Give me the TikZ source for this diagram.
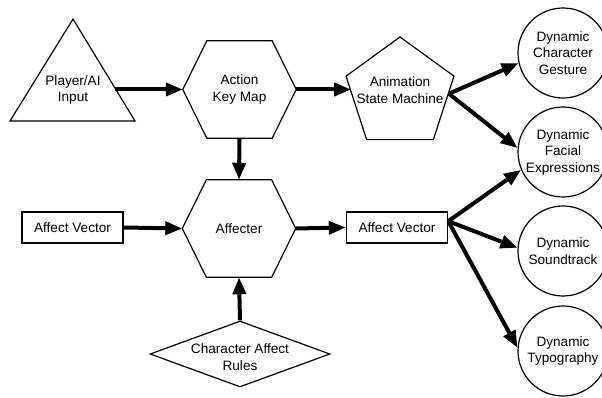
\documentclass[tikz,border=0pt]{standalone}
\usepackage{fontspec}
\setmainfont{Liberation Sans}
\usetikzlibrary{shapes.geometric,arrows.meta}

\tikzset{
  outline/.style={draw,line width=1.2pt},
  boxtext/.style={font=\fontsize{13.6}{16.5}\selectfont,align=center},
  hexnode/.style={boxtext,minimum width=113pt,minimum height=97pt,inner sep=0pt},
  vecbox/.style={boxtext,draw,line width=1.5pt,minimum width=101pt,minimum height=31pt,inner sep=0pt},
  outcircle/.style={boxtext,outline,circle,minimum size=90pt,inner sep=0pt},
  flow/.style={line width=4pt,-{Triangle[length=17pt,width=13pt]}},
}
\newcommand{\hexoutline}[1]{%
  \draw[outline] (#1.west) -- ([xshift=24pt]#1.north west) -- ([xshift=-24pt]#1.north east)
    -- (#1.east) -- ([xshift=-24pt]#1.south east) -- ([xshift=24pt]#1.south west) -- cycle;}

\begin{document}
\begin{tikzpicture}[x=1pt,y=-1pt]
  \useasboundingbox (0,0) rectangle (602,398);

  % input triangle
  \draw[outline] (73,19) -- (135,121) -- (10,121) -- cycle;
  \node[boxtext] (player) at (73,90) {Player/AI\\Input};
  \coordinate (player-out) at (115,89.5);

  % hexagons
  \node[hexnode] (akm) at (239.5,89.5) {Action\\Key Map};
  \hexoutline{akm}
  \node[hexnode] (aff) at (239,228.5) {Affecter};
  \hexoutline{aff}

  % state machine
  \node[outline,regular polygon,regular polygon sides=5,minimum size=113.5pt,inner sep=0pt]
    (asm) at (400,93.7) {};
  \node[boxtext] (asm-text) at (400,90) {Animation\\State Machine};

  % affect vectors
  \node[vecbox] (av1) at (72.5,227.5) {Affect Vector};
  \node[vecbox] (av2) at (397,227.5) {Affect Vector};

  % rules
  \node[outline,diamond,minimum width=180pt,minimum height=66pt,inner sep=0pt]
    (rules) at (240,354) {};
  \node[boxtext] (rules-text) at (240,357) {Character Affect\\Rules};

  % outputs
  \node[outcircle] (g1) at (563,53) {Dynamic\\Character\\Gesture};
  \node[outcircle] (g2) at (563,152) {Dynamic\\Facial\\Expressions};
  \node[outcircle] (g3) at (563,251) {Dynamic\\Soundtrack};
  \node[outcircle] (g4) at (563,351) {Dynamic\\Typography};

  % connectors
  \draw[flow] (player-out) -- (akm.west);
  \draw[flow] (akm.east) -- (asm.west |- akm.east);
  \draw[flow] (akm.south) -- (aff.north);
  \draw[flow] (av1.east) -- (aff.west);
  \draw[flow] (rules.north) -- (aff.south);
  \draw[flow] (aff.east) -- (av2.west);
  \draw[flow] (asm.east) -- (g1.193);
  \draw[flow] (asm.east) -- (g2.175);
  \draw[flow] (av2.7) -- (g2.203);
  \draw[flow] (av2.7) -- (g3.176);
  \draw[flow] (av2.7) -- (g4.176);
\end{tikzpicture}
\end{document}
